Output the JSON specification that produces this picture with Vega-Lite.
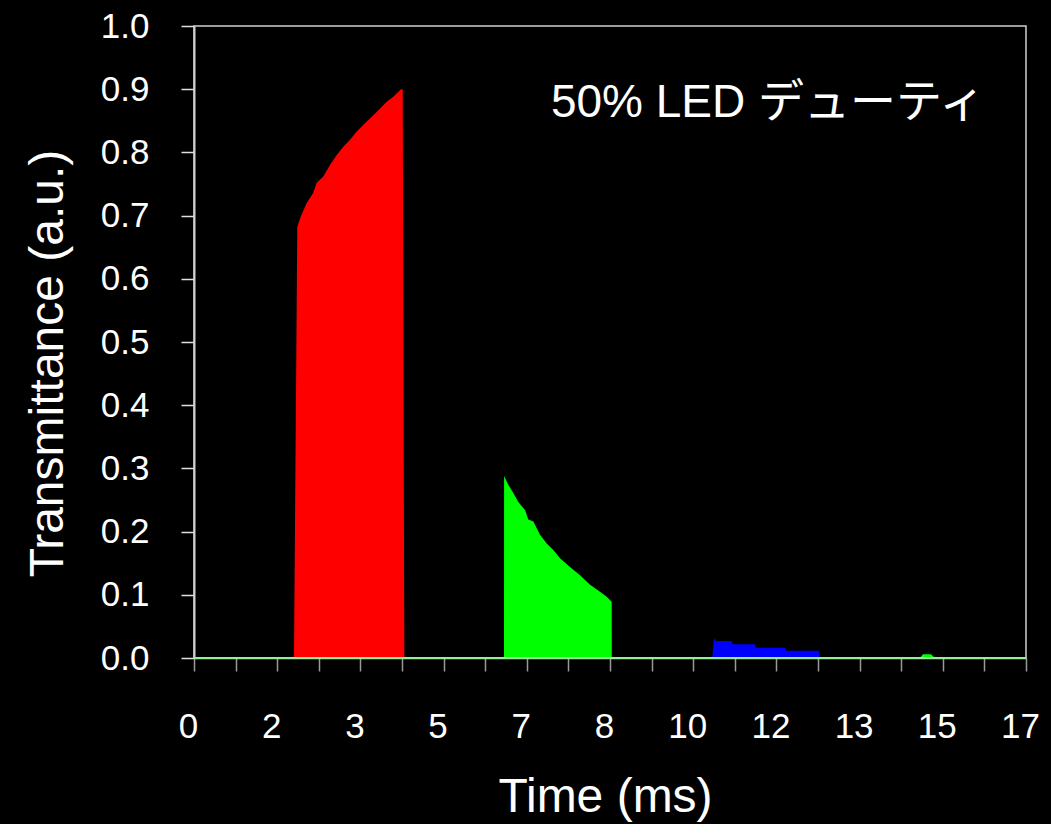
{
  "$schema": "https://vega.github.io/schema/vega-lite/v6.json",
  "width": 832,
  "height": 632,
  "autosize": {"type": "none"},
  "padding": {"left": 194, "top": 26, "right": 25, "bottom": 166},
  "background": "#000000",
  "config": {
    "view": {"stroke": "#cfcfcf", "strokeWidth": 1.5, "fill": "#000000"},
    "font": "Liberation Sans, Arial, Noto Sans CJK JP, sans-serif"
  },
  "data": {
    "values": [
      {"t": 2.003, "v": 0, "seg": "A"},
      {"t": 2.069, "v": 0.682, "seg": "A"},
      {"t": 2.137, "v": 0.698, "seg": "A"},
      {"t": 2.258, "v": 0.72, "seg": "A"},
      {"t": 2.39, "v": 0.736, "seg": "A"},
      {"t": 2.458, "v": 0.752, "seg": "A"},
      {"t": 2.59, "v": 0.762, "seg": "A"},
      {"t": 2.724, "v": 0.78, "seg": "A"},
      {"t": 2.859, "v": 0.796, "seg": "A"},
      {"t": 2.991, "v": 0.809, "seg": "A"},
      {"t": 3.125, "v": 0.82, "seg": "A"},
      {"t": 3.259, "v": 0.833, "seg": "A"},
      {"t": 3.46, "v": 0.849, "seg": "A"},
      {"t": 3.66, "v": 0.864, "seg": "A"},
      {"t": 3.86, "v": 0.88, "seg": "A"},
      {"t": 3.992, "v": 0.888, "seg": "A"},
      {"t": 4.147, "v": 0.9, "seg": "A"},
      {"t": 4.181, "v": 0.9, "seg": "A"},
      {"t": 4.213, "v": 0, "seg": "A"},
      {"t": 6.21, "v": 0, "seg": "B"},
      {"t": 6.212, "v": 0.288, "seg": "B"},
      {"t": 6.296, "v": 0.274, "seg": "B"},
      {"t": 6.396, "v": 0.261, "seg": "B"},
      {"t": 6.497, "v": 0.247, "seg": "B"},
      {"t": 6.631, "v": 0.234, "seg": "B"},
      {"t": 6.697, "v": 0.219, "seg": "B"},
      {"t": 6.797, "v": 0.216, "seg": "B"},
      {"t": 6.931, "v": 0.195, "seg": "B"},
      {"t": 7.065, "v": 0.181, "seg": "B"},
      {"t": 7.198, "v": 0.171, "seg": "B"},
      {"t": 7.332, "v": 0.158, "seg": "B"},
      {"t": 7.532, "v": 0.144, "seg": "B"},
      {"t": 7.733, "v": 0.131, "seg": "B"},
      {"t": 7.933, "v": 0.116, "seg": "B"},
      {"t": 8.133, "v": 0.105, "seg": "B"},
      {"t": 8.267, "v": 0.097, "seg": "B"},
      {"t": 8.367, "v": 0.089, "seg": "B"},
      {"t": 8.369, "v": 0, "seg": "B"},
      {"t": 10.383, "v": 0, "seg": "C"},
      {"t": 10.41, "v": 0.027, "seg": "C"},
      {"t": 10.443, "v": 0.032, "seg": "C"},
      {"t": 10.455, "v": 0.027, "seg": "C"},
      {"t": 10.771, "v": 0.027, "seg": "C"},
      {"t": 10.79, "v": 0.0217, "seg": "C"},
      {"t": 11.238, "v": 0.0217, "seg": "C"},
      {"t": 11.257, "v": 0.0163, "seg": "C"},
      {"t": 11.839, "v": 0.0163, "seg": "C"},
      {"t": 11.858, "v": 0.0116, "seg": "C"},
      {"t": 12.526, "v": 0.0116, "seg": "C"},
      {"t": 12.528, "v": 0, "seg": "C"},
      {"t": 14.543, "v": 0, "seg": "D"},
      {"t": 14.603, "v": 0.006, "seg": "D"},
      {"t": 14.764, "v": 0.006, "seg": "D"},
      {"t": 14.844, "v": 0, "seg": "D"}
    ]
  },
  "layer": [
    {
      "mark": {"type": "area", "interpolate": "linear"},
      "encoding": {
        "x": {
          "field": "t",
          "type": "quantitative",
          "scale": {"domain": [0, 16.6667], "nice": false, "zero": false},
          "axis": {
            "values": [0, 0.83333, 1.66667, 2.5, 3.33333, 4.16667, 5, 5.83333, 6.66667, 7.5, 8.33333, 9.16667, 10, 10.83333, 11.66667, 12.5, 13.33333, 14.16667, 15, 15.83333, 16.66667],
            "labelExpr": "round(datum.value / 0.833333) % 2 == 0 ? format(datum.value, '.0f') : ''",
            "labelOverlap": false,
            "labelFlush": false,
            "grid": false,
            "tickSize": 13,
            "tickColor": "#9a9a9a",
            "tickWidth": 1.5,
            "domainColor": "#cfcfcf",
            "domainWidth": 1.5,
            "labelColor": "#ffffff",
            "labelFont": "Liberation Sans",
            "labelFontSize": 35,
            "labelPadding": 38,
            "labelOffset": -6,
            "title": "Time (ms)",
            "titleColor": "#ffffff",
            "titleFont": "Liberation Sans",
            "titleFontSize": 48,
            "titleFontWeight": "normal",
            "titleX": 411,
            "titleY": 153,
            "titleAlign": "center",
            "titleBaseline": "alphabetic"
          }
        },
        "y": {
          "field": "v",
          "type": "quantitative",
          "scale": {"domain": [0, 1], "nice": false},
          "axis": {
            "values": [0, 0.1, 0.2, 0.3, 0.4, 0.5, 0.6, 0.7, 0.8, 0.9, 1.0],
            "format": ".1f",
            "grid": false,
            "tickSize": 13,
            "tickColor": "#e0e0e0",
            "tickWidth": 1.5,
            "domainColor": "#cfcfcf",
            "domainWidth": 2,
            "labelColor": "#ffffff",
            "labelFont": "Liberation Sans",
            "labelFontSize": 35,
            "labelPadding": 32,
            "title": "Transmittance (a.u.)",
            "titleColor": "#ffffff",
            "titleFont": "Liberation Sans",
            "titleFontSize": 48,
            "titleFontWeight": "normal",
            "titleAngle": -90,
            "titleX": -146,
            "titleY": 337,
            "titleAlign": "center",
            "titleBaseline": "middle"
          }
        },
        "color": {
          "field": "seg",
          "type": "nominal",
          "scale": {"domain": ["A", "B", "C", "D"], "range": ["#ff0000", "#00ff00", "#0000ff", "#00ff00"]},
          "legend": null
        }
      }
    },
    {
      "data": {"values": [{}]},
      "mark": {"type": "rule", "color": "#98ec98", "strokeWidth": 2},
      "encoding": {"y": {"datum": 0}}
    },
    {
      "data": {"values": [{}]},
      "mark": {
        "type": "text",
        "align": "left",
        "baseline": "alphabetic",
        "color": "#ffffff",
        "fontSize": 46,
        "font": "Liberation Sans, Noto Sans CJK JP, sans-serif"
      },
      "encoding": {
        "x": {"datum": 7.15},
        "y": {"datum": 0.856},
        "text": {"value": "50% LED デューティ"}
      }
    }
  ]
}
